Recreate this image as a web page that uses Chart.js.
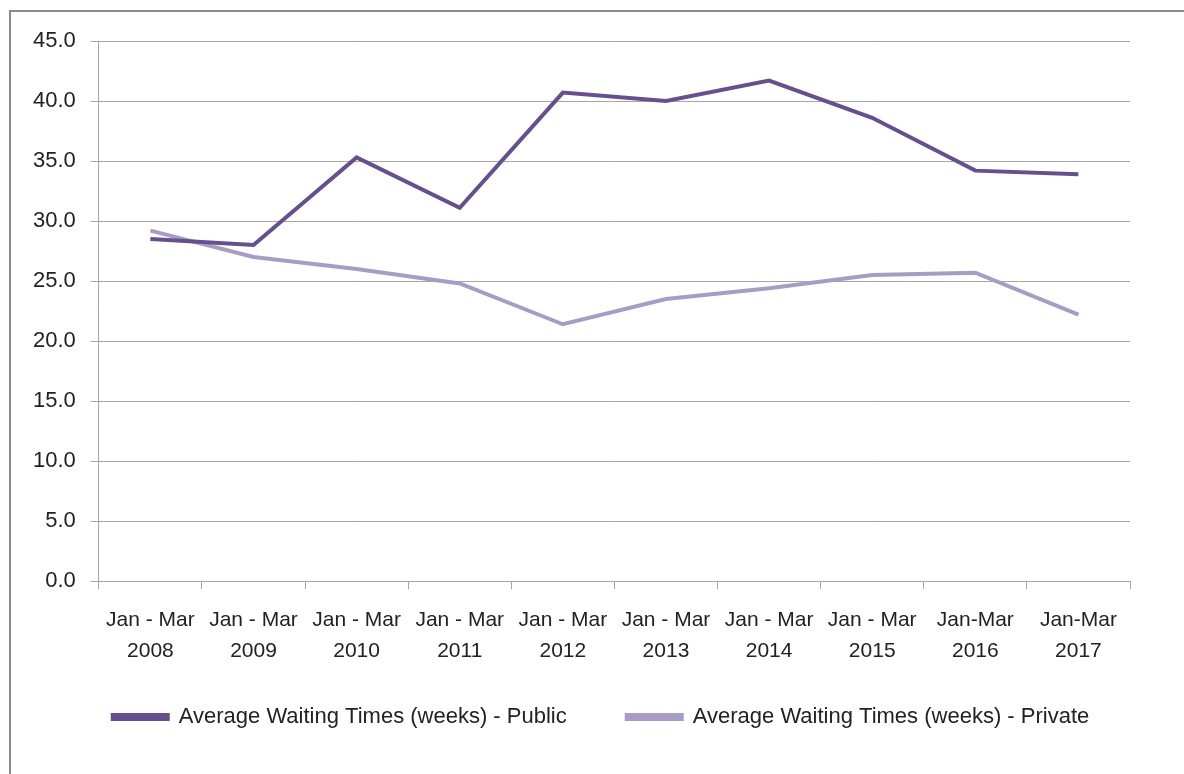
<!DOCTYPE html>
<html>
<head>
<meta charset="utf-8">
<script src="https://cdn.jsdelivr.net/npm/chart.js@4"></script>
<style>
  html, body { margin: 0; padding: 0; background: #fff; overflow: hidden; }
  #frame { position: absolute; left: 9px; top: 10px; width: 1200px; height: 800px; border: 2px solid #8c8c8c; }
  #wrap { position: absolute; left: 0; top: 0; width: 1184px; height: 774px; }
</style>
</head>
<body>
<div id="frame"></div>
<div id="wrap"><canvas id="chart"></canvas></div>
<script>
// Categories and series
const periods = [
  ['Jan - Mar', '2008'], ['Jan - Mar', '2009'], ['Jan - Mar', '2010'], ['Jan - Mar', '2011'],
  ['Jan - Mar', '2012'], ['Jan - Mar', '2013'], ['Jan - Mar', '2014'], ['Jan - Mar', '2015'],
  ['Jan-Mar', '2016'], ['Jan-Mar', '2017']
];
const publicWeeks = [28.5, 28.0, 35.3, 31.1, 40.7, 40.0, 41.7, 38.6, 34.2, 33.9];
const privateWeeks = [29.2, 27.0, 26.0, 24.8, 21.4, 23.5, 24.4, 25.5, 25.7, 22.2];

const gridColor = '#a6a6a6';
const fontFamily = '"Liberation Sans", Arial, sans-serif';

// the wide legend padding pushes the items too low, lift the legend back up
const legendNudge = {
  id: 'legendNudge',
  afterLayout(chart) {
    chart.legend.top -= 36;
    chart.legend.bottom -= 36;
  }
};

const ctx = document.getElementById('chart').getContext('2d');
new Chart(ctx, {
  type: 'line',
  data: {
    labels: periods,
    datasets: [
      {
        label: 'Average Waiting Times (weeks) - Public',
        data: publicWeeks,
        borderColor: '#674f8d',
        backgroundColor: '#674f8d',
        borderWidth: 4,
        pointRadius: 0,
        tension: 0
      },
      {
        label: 'Average Waiting Times (weeks) - Private',
        data: privateWeeks,
        borderColor: '#a99cc4',
        backgroundColor: '#a99cc4',
        borderWidth: 4,
        pointRadius: 0,
        tension: 0
      }
    ]
  },
  options: {
    responsive: true,
    maintainAspectRatio: false,
    animation: false,
    layout: { padding: { left: 18, right: 0, top: 41, bottom: 0 } },
    plugins: {
      legend: {
        position: 'bottom',
        labels: {
          boxWidth: 55,
          boxHeight: 4,
          padding: 60,
          color: '#222',
          font: { family: fontFamily, size: 22 }
        }
      },
      tooltip: { enabled: false }
    },
    scales: {
      x: {
        offset: true,
        grid: {
          offset: true,
          drawOnChartArea: false,
          color: gridColor,
          tickLength: 8
        },
        border: { color: gridColor, width: 1 },
        ticks: {
          maxRotation: 0,
          autoSkip: false,
          color: '#222',
          padding: 16,
          font: { family: fontFamily, size: 21, lineHeight: 1.45 }
        }
      },
      y: {
        min: 0,
        max: 45,
        grid: {
          color: gridColor,
          tickLength: 8
        },
        border: { color: gridColor, width: 1 },
        ticks: {
          stepSize: 5,
          color: '#222',
          padding: 15,
          font: { family: fontFamily, size: 22 },
          callback: v => v.toFixed(1)
        }
      },
      // empty right-hand axis, only keeps the plot clear of the right edge
      yRight: {
        position: 'right',
        min: 0,
        max: 45,
        grid: { drawOnChartArea: false, display: false },
        border: { display: false },
        ticks: { display: false },
        afterFit: scale => { scale.width = 54; }
      }
    }
  },
  plugins: [legendNudge]
});
</script>
</body>
</html>
